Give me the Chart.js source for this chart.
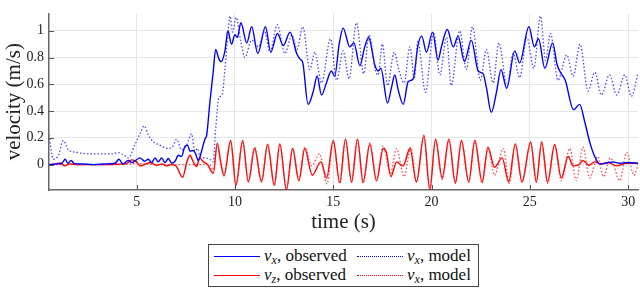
<!DOCTYPE html>
<html>
<head>
<meta charset="utf-8">
<script src="https://cdn.jsdelivr.net/npm/chart.js@4/dist/chart.umd.min.js"></script>
<style>
  body { margin: 0; background: #fff; }
  #wrap { position: relative; width: 640px; height: 290px; }
  #legend { position: absolute; left: 208px; top: 244px; width: 271px; height: 43px; border: 1px solid #444;
            box-sizing: border-box; background: #fff; font-family: 'Liberation Serif', serif; font-size: 17px; color: #111; }
  .sw { position: absolute; width: 46px; height: 0; }
  .lb { position: absolute; white-space: nowrap; line-height: 17px; }
  .lb sub { font-size: 12px; vertical-align: -3px; line-height: 0; }
</style>
</head>
<body>
<div id="wrap">
  <canvas id="myChart" width="640" height="240"></canvas>
  <div id="legend">
    <div class="sw" style="left:5px;top:11px;border-top:1.5px solid #0000ff"></div>
    <div class="lb" style="left:55px;top:2px"><i>v</i><sub><i>x</i></sub>, observed</div>
    <div class="sw" style="left:148px;top:11px;border-top:1.5px dotted #0000ff"></div>
    <div class="lb" style="left:198px;top:2px"><i>v</i><sub><i>x</i></sub>, model</div>
    <div class="sw" style="left:5px;top:30px;border-top:1.5px solid #ff0000"></div>
    <div class="lb" style="left:55px;top:21px"><i>v</i><sub><i>z</i></sub>, observed</div>
    <div class="sw" style="left:148px;top:30px;border-top:1.5px dotted #ff0000"></div>
    <div class="lb" style="left:198px;top:21px"><i>v</i><sub><i>x</i></sub>, model</div>
  </div>
</div>
<script>
// tick labels
const xTicks = [5, 10, 15, 20, 25, 30];
const yTicks = [0, 0.2, 0.4, 0.6, 0.8, 1];

// v_x observed (time s, velocity m/s)
const vxObsT = [0.54,0.9,1.2,1.36,1.5,1.66,1.85,2.2,2.8,3.4,3.9,4.1,4.3,4.57,4.75,5.17,5.4,5.59,5.76,5.93,6.1,6.27,6.44,6.61,6.78,6.95,7.12,7.28,7.45,7.59,7.71,7.88,8.0,8.13,8.3,8.47,8.56,8.72,8.89,9.02,9.18,9.3,9.49,9.64,9.82,10.0,10.12,10.3,10.6,10.85,11.16,11.55,11.82,12.16,12.46,12.8,13.14,13.3,13.45,13.72,13.97,14.18,14.4,14.65,14.9,15.07,15.3,15.5,15.84,16.05,16.35,16.6,16.8,17.12,17.28,17.42,17.76,17.96,18.13,18.3,18.56,18.81,19.06,19.32,19.5,19.74,20.05,20.33,20.5,20.8,21.1,21.35,21.67,22.02,22.37,22.62,22.79,23.04,23.3,23.53,23.82,24.23,24.48,24.95,25.23,25.44,25.76,26.16,26.38,26.55,26.8,27.22,27.53,27.79,28.06,28.3,28.55,28.9,29.23,29.57,30.0,30.5];
const vxObs = [0.0,0.005,0.01,0.04,0.01,0.03,0.005,0.005,0.0,0.005,0.01,0.04,0.005,0.03,0.015,0.05,0.025,0.04,0.015,0.05,0.02,0.05,0.015,0.045,0.01,0.025,0.07,0.06,0.135,0.145,0.1,0.105,0.08,0.03,0.1,0.19,0.22,0.46,0.69,0.86,0.79,0.77,0.85,1.0,0.9,0.97,0.95,1.06,0.91,1.03,0.83,1.03,0.84,0.98,0.89,0.99,0.83,0.79,0.76,0.45,0.54,0.66,0.52,0.61,0.7,0.66,0.9,1.02,0.88,0.91,0.74,0.88,0.95,0.74,0.7,0.72,0.46,0.575,0.67,0.56,0.45,0.62,0.64,0.9,0.96,0.84,0.99,0.78,0.88,1.01,0.88,0.96,0.77,0.93,0.7,0.68,0.575,0.39,0.54,0.71,0.57,0.85,0.76,1.03,0.88,0.94,0.72,0.91,0.75,0.69,0.63,0.41,0.45,0.32,0.16,0.06,0.005,0.012,0.02,0.01,0.015,0.01];

// v_x model
const vxModT = [0.54,0.76,1.02,1.27,1.52,2.03,2.54,3.22,3.73,4.07,4.35,4.58,4.91,5.2,5.37,5.6,5.85,6.1,6.6,6.85,7.03,7.28,7.55,7.79,7.96,8.1,8.22,8.47,8.72,8.89,9.01,9.18,9.35,9.49,9.64,9.75,9.88,10.05,10.3,10.5,10.85,11.2,11.5,11.78,12.15,12.54,12.9,13.15,13.45,13.81,14.06,14.4,14.86,15.17,15.5,15.8,16.18,16.55,16.82,17.15,17.28,17.5,17.76,18.1,18.35,18.6,18.9,19.12,19.3,19.69,20.1,20.42,20.76,21.0,21.43,21.77,22.08,22.48,22.79,23.13,23.42,23.84,24.15,24.48,24.85,25.2,25.54,25.8,26.05,26.43,26.88,27.2,27.55,27.96,28.3,28.64,29.05,29.42,29.83,30.16,30.5];
const vxMod = [0.22,0.04,0.07,0.18,0.11,0.09,0.08,0.08,0.08,0.09,0.07,0.05,0.15,0.24,0.29,0.22,0.17,0.15,0.12,0.14,0.19,0.11,0.15,0.23,0.1,0.12,0.06,0.05,0.04,0.02,0.25,0.5,0.52,0.72,0.97,1.11,0.99,1.1,0.92,0.8,0.93,0.88,1.0,0.84,1.045,0.83,0.97,0.86,1.03,0.71,0.84,0.61,0.94,0.63,0.85,0.64,1.06,0.68,0.97,0.7,0.67,0.9,0.59,0.84,0.7,0.61,0.88,0.64,0.92,0.54,0.99,0.67,0.95,0.59,1.0,0.71,1.03,0.63,0.86,0.61,0.91,0.59,0.83,0.65,0.95,0.72,1.11,0.78,0.98,0.63,0.82,0.66,0.9,0.55,0.69,0.52,0.67,0.52,0.67,0.51,0.68];

// v_z observed
const vzObsT = [0.54,0.9,1.1,1.35,1.6,2.0,3.0,4.0,4.45,4.75,5.0,5.17,5.4,5.7,6.0,6.3,6.5,6.75,7.0,7.34,7.55,7.71,7.85,8.05,8.2,8.4,8.6,8.9,9.1,9.27,9.44,9.78,10.05,10.39,10.68,11.0,11.35,11.66,12.0,12.28,12.62,12.93,13.25,13.55,13.93,14.37,14.66,15.0,15.33,15.62,15.93,16.23,16.52,16.86,17.2,17.54,17.7,17.93,18.22,18.55,18.9,19.23,19.61,19.91,20.2,20.54,20.88,21.21,21.52,21.89,22.2,22.57,22.87,23.2,23.59,23.92,24.26,24.6,25.04,25.33,25.6,25.9,26.26,26.6,26.95,27.2,27.5,27.7,28.0,28.3,28.6,29.0,29.4,29.9,30.5];
const vzObs = [0.0,0.005,0.012,-0.01,0.005,0.0,0.0,0.002,0.005,0.035,0.02,-0.01,0.0,0.015,-0.005,0.005,-0.01,0.0,-0.01,-0.095,0.02,0.07,0.03,-0.015,0.05,0.02,0.0,-0.065,0.16,0.02,-0.085,0.18,-0.155,0.18,-0.13,0.12,-0.13,0.15,-0.155,0.155,-0.19,0.12,-0.12,0.12,-0.08,0.02,-0.1,0.18,-0.135,0.19,-0.13,0.19,-0.13,0.155,-0.12,0.12,0.09,-0.09,0.02,-0.01,0.12,-0.13,0.22,-0.19,0.19,-0.1,0.19,-0.14,0.18,-0.13,0.18,-0.13,0.13,-0.02,0.05,-0.13,0.155,-0.13,0.17,-0.13,0.17,-0.13,0.15,-0.1,0.06,-0.01,0.0,0.03,-0.005,0.02,0.005,0.015,-0.01,0.01,0.01];

// v_z model
const vzModT = [0.54,2.0,4.0,5.0,6.0,7.0,8.0,8.7,8.9,9.1,9.27,9.44,9.78,10.05,10.39,10.68,11.0,11.35,11.66,12.0,12.28,12.62,12.93,13.25,13.55,13.9,14.3,14.68,15.0,15.33,15.62,15.93,16.23,16.52,16.86,17.2,17.54,17.9,18.22,18.6,18.95,19.23,19.61,19.91,20.2,20.54,20.88,21.21,21.52,21.89,22.2,22.57,22.87,23.2,23.65,23.95,24.26,24.6,25.04,25.33,25.6,25.9,26.26,26.6,27.03,27.36,27.7,28.04,28.45,28.75,29.1,29.57,29.92,30.3,30.5];
const vzMod = [0.0,0.0,0.0,0.008,0.0,0.0,0.0,0.0,-0.04,0.15,0.03,-0.08,0.17,-0.15,0.17,-0.12,0.13,-0.12,0.15,-0.15,0.15,-0.18,0.12,-0.11,0.13,-0.01,0.08,-0.145,0.17,-0.14,0.18,-0.13,0.18,-0.14,0.16,-0.12,0.14,-0.07,0.12,-0.09,0.13,-0.13,0.2,-0.18,0.18,-0.11,0.18,-0.13,0.17,-0.13,0.17,-0.14,0.12,-0.08,0.12,-0.14,0.15,-0.13,0.16,-0.13,0.16,-0.14,0.14,-0.12,0.12,-0.12,0.13,-0.1,0.06,-0.09,0.05,-0.12,0.09,-0.08,0.0];

const pts = (t, v) => t.map((x, i) => ({ x: x, y: v[i] }));
const serif = "'Liberation Serif', 'DejaVu Serif', serif";

// small inward tick marks on the left and bottom axes
const innerTicks = {
  id: 'innerTicks',
  afterDatasetsDraw(chart) {
    const { ctx, chartArea: a, scales: { x, y } } = chart;
    ctx.save();
    ctx.strokeStyle = '#555';
    ctx.lineWidth = 1;
    ctx.beginPath();
    xTicks.forEach(v => {
      const p = Math.round(x.getPixelForValue(v)) + 0.5;
      ctx.moveTo(p, a.bottom); ctx.lineTo(p, a.bottom - 5);
    });
    yTicks.forEach(v => {
      const p = Math.round(y.getPixelForValue(v)) + 0.5;
      ctx.moveTo(a.left, p); ctx.lineTo(a.left + 5, p);
    });
    ctx.stroke();
    ctx.restore();
  }
};

const line = {
  pointRadius: 0,
  cubicInterpolationMode: 'monotone',
  fill: false
};

let chart = new Chart(document.getElementById('myChart').getContext('2d'), {
  type: 'line',
  data: {
    datasets: [
      { ...line, label: 'vx model', data: pts(vxModT, vxMod), borderColor: 'rgba(40,40,255,0.85)', borderWidth: 1.3, borderDash: [1.5, 2] },
      { ...line, label: 'vx observed', data: pts(vxObsT, vxObs), borderColor: '#0000ff', borderWidth: 1.4 },
      { ...line, label: 'vz model', data: pts(vzModT, vzMod), borderColor: 'rgba(255,40,40,0.85)', borderWidth: 1.3, borderDash: [1.5, 2] },
      { ...line, label: 'vz observed', data: pts(vzObsT, vzObs), borderColor: '#ff0000', borderWidth: 1.4 }
    ]
  },
  options: {
    responsive: false,
    animation: false,
    events: [],
    layout: { padding: { top: 0, right: 2, bottom: 0, left: 0 } },
    plugins: { legend: { display: false }, tooltip: { enabled: false } },
    scales: {
      x: {
        type: 'linear',
        min: 0.54,
        max: 30.5,
        afterBuildTicks: s => { s.ticks = xTicks.map(v => ({ value: v })); },
        afterFit: s => { s.height = 50; },
        grid: { color: '#e6e6e6', drawTicks: false },
        border: { color: '#666', width: 1.5 },
        ticks: { padding: 4, color: '#222', font: { family: serif, size: 14 }, maxRotation: 0 },
        title: { display: true, text: 'time (s)', color: '#222', font: { family: serif, size: 21 }, padding: { top: 0, bottom: 5 } }
      },
      y: {
        min: -0.19,
        max: 1.13,
        afterBuildTicks: s => { s.ticks = yTicks.map(v => ({ value: v })); },
        afterFit: s => { s.width = 49; },
        grid: { color: '#e6e6e6', drawTicks: false },
        border: { color: '#666', width: 1.5 },
        ticks: { padding: 5, color: '#222', font: { family: serif, size: 14 }, callback: v => String(Math.round(v * 10) / 10) },
        title: { display: true, text: 'velocity (m/s)', color: '#222', font: { family: serif, size: 21 }, padding: { top: 2, bottom: 0 } }
      }
    }
  },
  plugins: [innerTicks]
});
</script>
</body>
</html>
